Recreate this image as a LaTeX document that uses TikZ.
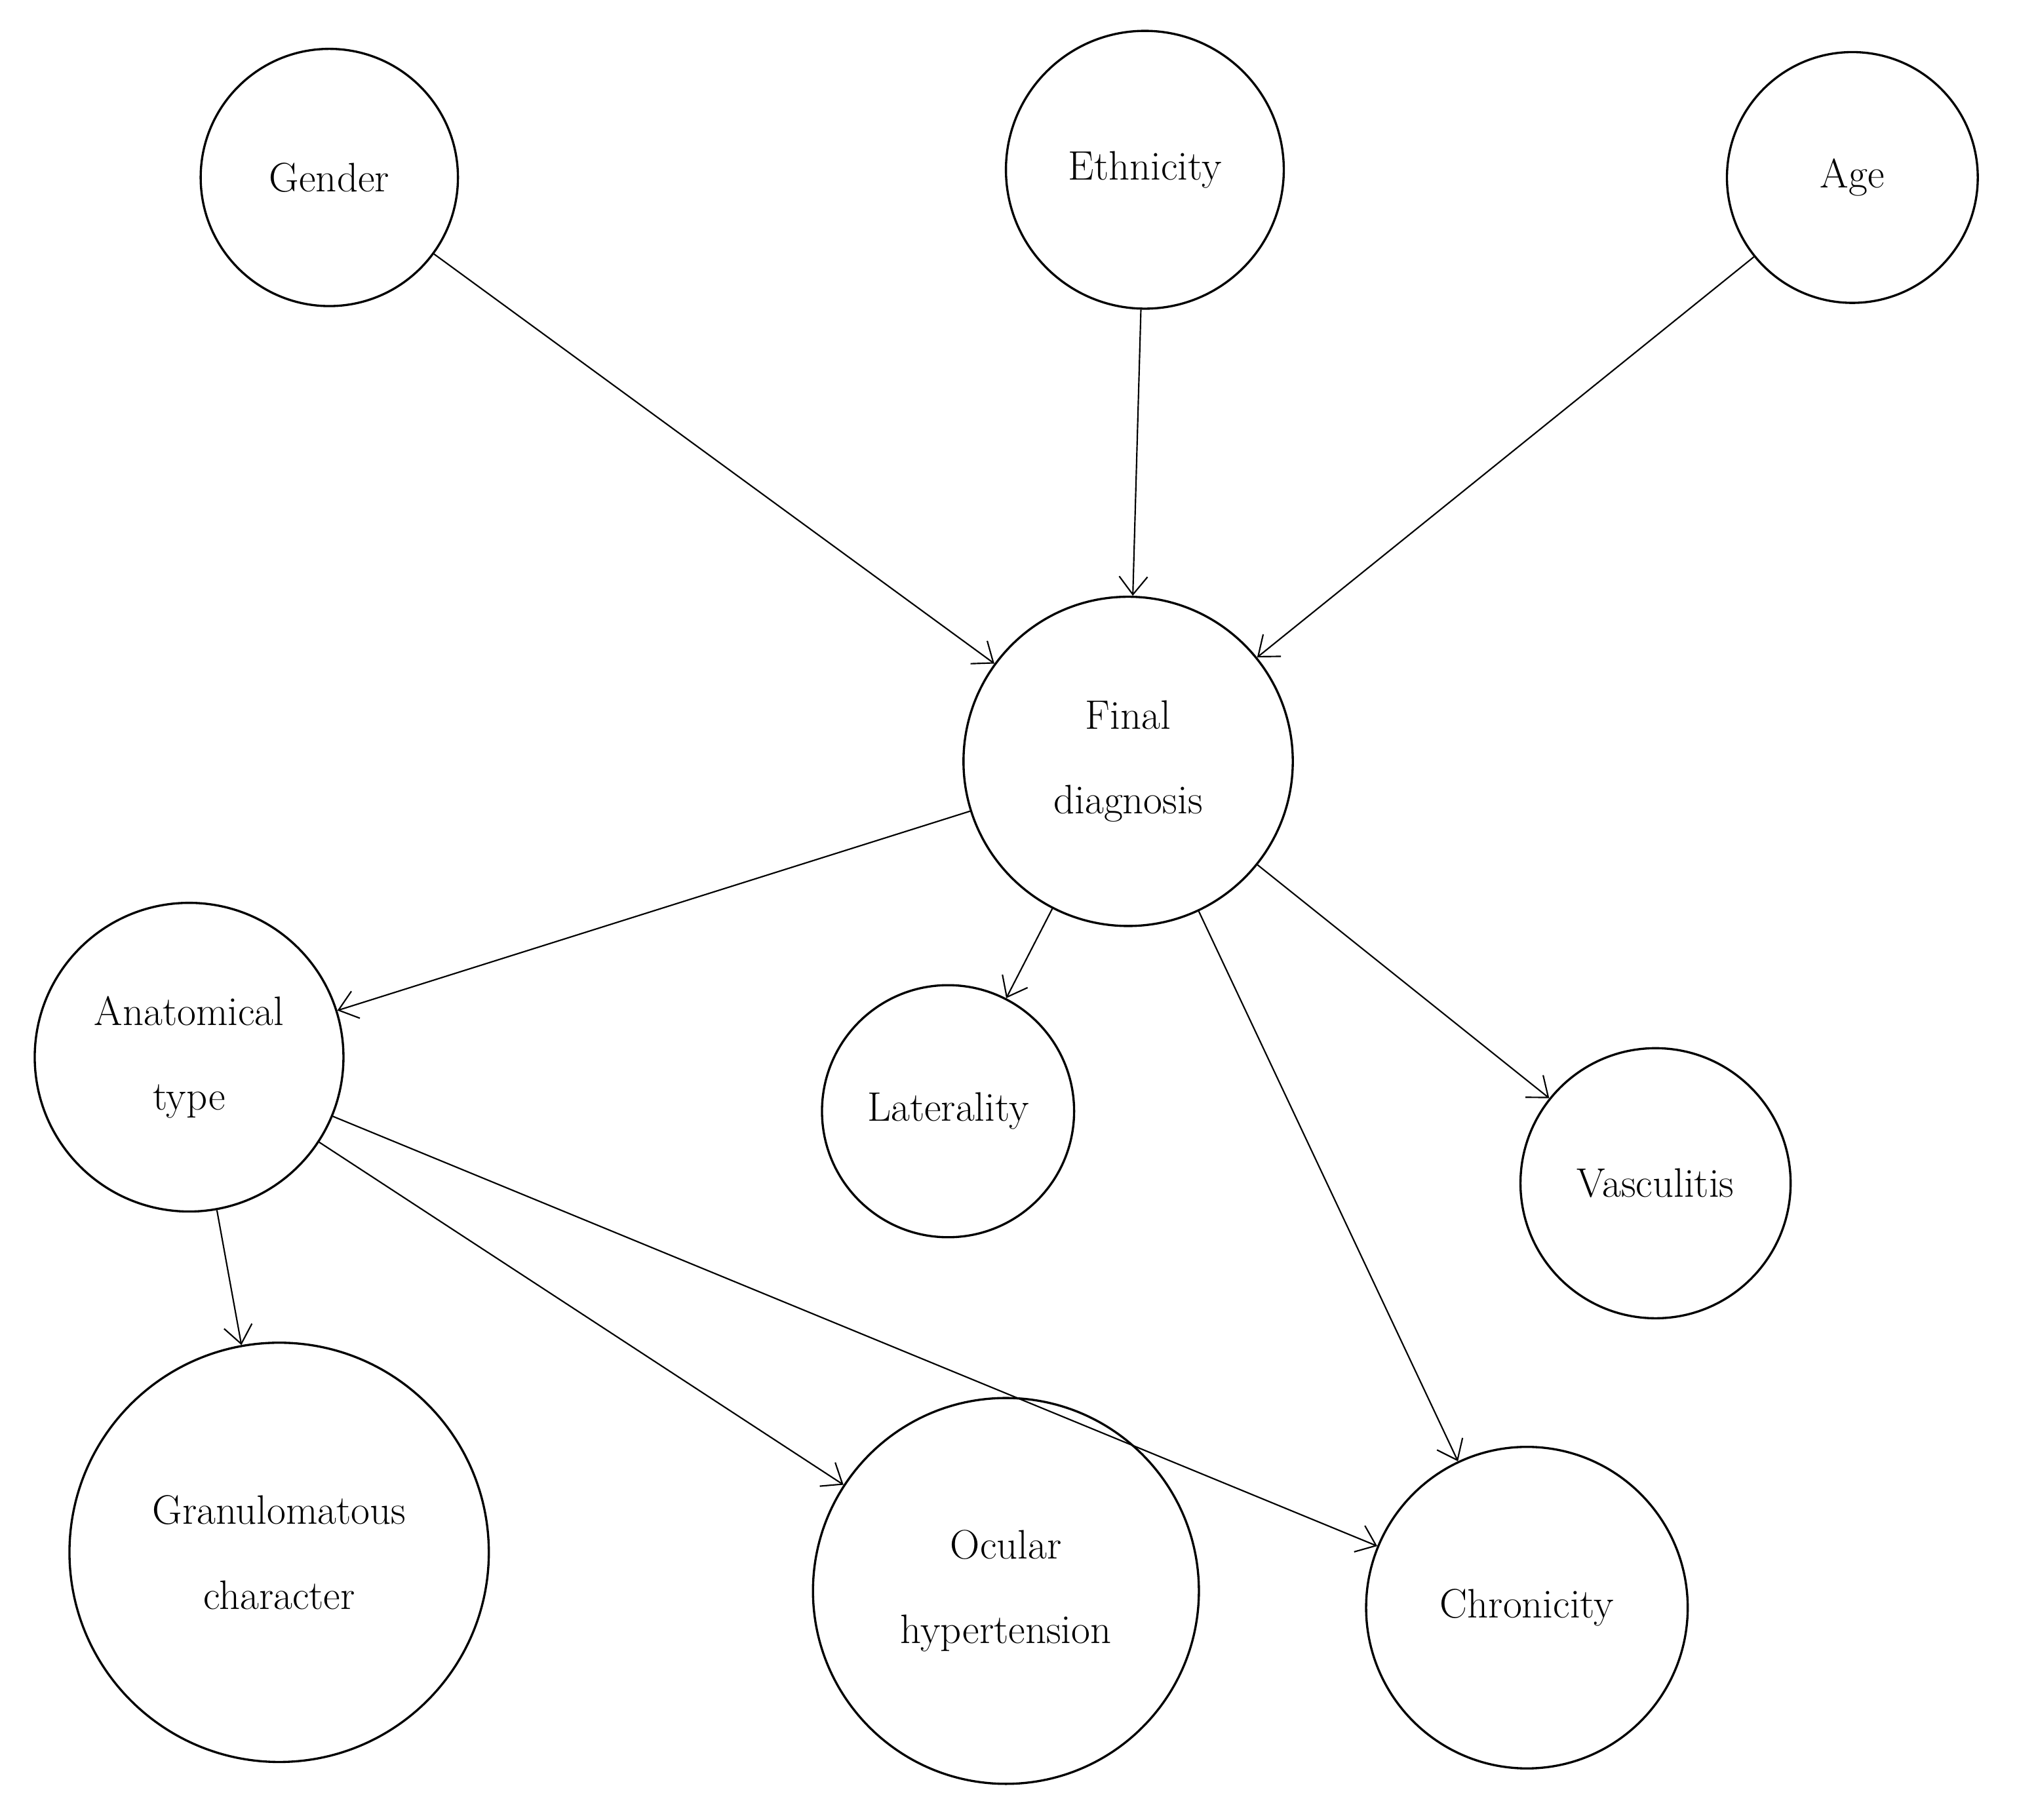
\documentclass[tikz,border=0pt]{standalone}
\usetikzlibrary{arrows.meta}
\begin{document}
\begin{tikzpicture}[x=1pt,y=-1pt,
  nd/.style={circle,draw,line width=1.7pt,minimum size=#1,inner sep=0pt,align=center,font=\fontsize{32}{66}\selectfont},
  ar/.style={-{Straight Barb[length=14pt,width=22pt]},line width=1.1pt}]
\useasboundingbox (0,0) rectangle (1568,1415);
\node[nd=200pt] (g) at (256,138) {Gender};
\node[nd=216pt] (e) at (890,132) {Ethnicity};
\node[nd=195pt] (a) at (1440,138) {Age};
\node[nd=256pt] (f) at (877,592) {Final\\diagnosis};
\node[nd=240pt] (t) at (147,822) {Anatomical\\type};
\node[nd=196pt] (l) at (737,864) {Laterality};
\node[nd=210pt] (v) at (1287,920) {Vasculitis};
\node[nd=326pt] (gc) at (217,1207) {Granulomatous\\character};
\node[nd=300pt] (o) at (782,1237) {Ocular\\hypertension};
\node[nd=250pt] (c) at (1187,1250) {Chronicity};
\draw[ar] (g) -- (f);
\draw[ar] (e) -- (f);
\draw[ar] (a) -- (f);
\draw[ar] (f) -- (t);
\draw[ar] (f) -- (l);
\draw[ar] (f) -- (v);
\draw[ar] (f) -- (c);
\draw[ar] (t) -- (gc);
\draw[ar] (t) -- (o);
\draw[ar] (t) -- (c);
\end{tikzpicture}
\end{document}
